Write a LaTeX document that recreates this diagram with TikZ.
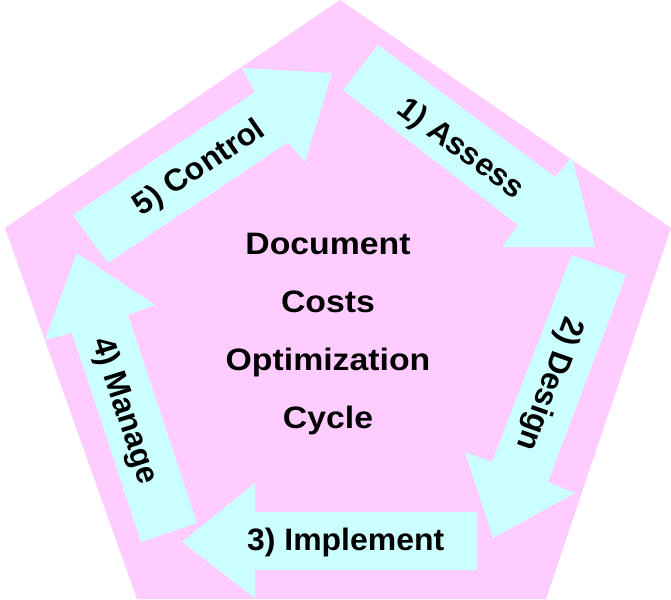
\documentclass[tikz,border=0pt]{standalone}
\usepackage{fontspec}
\setmainfont{Liberation Sans}
\definecolor{pentpink}{RGB}{255,204,255}
\definecolor{arrowcyan}{RGB}{204,255,255}
\tikzset{
  pent/.style={fill=pentpink, draw=none},
  cyclearrow/.style={fill=arrowcyan, draw=none},
  lbl/.style={font=\bfseries\fontsize{31}{31}\selectfont, inner sep=0pt,
    text height=22.2pt, text depth=0pt, anchor=center, transform shape, xscale=1.03},
  title/.style={font=\bfseries\fontsize{31}{31}\selectfont, inner sep=0pt,
    anchor=base, transform shape, xscale=1.09}
}
\begin{document}
\begin{tikzpicture}[x=1pt, y=-1pt]
\useasboundingbox (0,0) rectangle (671,599);
% pentagon background
\fill[pent] (340,0) -- (671,228) -- (546,599) -- (137,599) -- (5,228) -- cycle;
% 1) Assess
\fill[cyclearrow] (378,45) -- (555,177) -- (572,157) -- (595,247) -- (502,247) -- (518,225) -- (343,90) -- cycle;
% 2) Design
\fill[cyclearrow] (571.7,255) -- (626,275) -- (548,482) -- (575,493) -- (493,538) -- (465,452) -- (492,462) -- cycle;
% 3) Implement
\fill[cyclearrow] (477,512) -- (255,512) -- (255,483) -- (182,542) -- (255,598) -- (255,570) -- (477,570) -- cycle;
% 4) Manage
\fill[cyclearrow] (141,542) -- (197,523) -- (128,315) -- (155,305) -- (76.7,253) -- (45,340) -- (72,333) -- cycle;
% 5) Control
\fill[cyclearrow] (73,215) -- (255,92) -- (242,68) -- (332,73) -- (305,162) -- (288,142) -- (108,263) -- cycle;
% labels
\node[lbl, rotate=-37] (assess) at (462,147) {1) Assess};
\node[lbl, rotate=-110] (design) at (552,385) {2) Design};
\node[lbl] (implement) at (345.7,539.5) {3) Implement};
\node[lbl, rotate=-72] (manage) at (127,410) {4) Manage};
\node[lbl, rotate=34] (control) at (198,166) {5) Control};
% centre title
\node[title] (t1) at (328,254) {Document};
\node[title] (t2) at (328,312) {Costs};
\node[title] (t3) at (328,370) {Optimization};
\node[title] (t4) at (328,428.5) {Cycle};
\end{tikzpicture}
\end{document}
